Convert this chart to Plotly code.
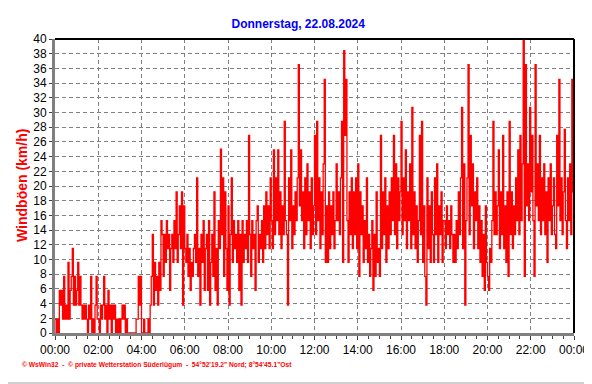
import pandas as pd
import plotly.graph_objects as go

# Wind gusts (km/h), 3-minute samples
gust_00_06 = [
    1.9, 0, 1.9, 0, 5.8, 3.8, 5.8, 1.9, 7.7, 1.9, 3.8, 1.9, 9.6, 1.9, 5.8, 7.7, 11.5, 3.8, 7.7, 3.8,
    5.8, 9.6, 3.8, 7.7, 3.8, 1.9, 3.8, 1.9, 3.8, 1.9, 0, 3.8, 1.9, 7.7, 0, 1.9, 0, 3.8, 7.7, 1.9,
    1.9, 0, 3.8, 1.9, 3.8, 7.7, 1.9, 3.8, 0, 5.8, 1.9, 3.8, 0, 3.8, 1.9, 3.8, 0, 1.9, 0, 1.9,
    0, 1.9, 3.8, 1.9, 3.8, 0, 1.9, 0, 0, 0, 0, 0, 0, 0, 0, 1.9, 1.9, 7.7, 3.8, 7.7,
    0, 0, 1.9, 0, 0, 0, 1.9, 0, 3.8, 7.7, 13.4, 3.8, 9.6, 5.8, 7.7, 3.8, 9.6, 5.8, 15.3, 13.4,
    7.7, 13.4, 9.6, 15.3, 11.5, 13.4, 5.8, 11.5, 13.4, 9.6, 15.3, 11.5, 19.2, 9.6, 13.4, 17.3, 11.5, 19.2, 3.8, 17.3,
]
gust_06_12 = [
    11.5, 9.6, 13.4, 7.7, 11.5, 5.8, 9.6, 7.7, 11.5, 13.4, 9.6, 21.1, 7.7, 11.5, 3.8, 13.4, 9.6, 15.3, 5.8, 11.5,
    13.4, 5.8, 15.3, 3.8, 9.6, 13.4, 7.7, 19.2, 5.8, 11.5, 3.8, 15.3, 11.5, 25.0, 13.4, 21.1, 7.7, 19.2, 11.5, 5.8,
    17.3, 3.8, 13.4, 21.1, 9.6, 15.3, 11.5, 13.4, 9.6, 15.3, 5.8, 13.4, 3.8, 15.3, 9.6, 13.4, 11.5, 15.3, 9.6, 26.9,
    13.4, 7.7, 15.3, 11.5, 13.4, 5.8, 15.3, 17.3, 9.6, 13.4, 11.5, 15.3, 9.6, 17.3, 11.5, 19.2, 13.4, 17.3, 11.5, 21.1,
    15.3, 11.5, 24.9, 13.4, 21.1, 15.3, 24.9, 13.4, 19.2, 11.5, 17.3, 13.4, 28.8, 15.3, 13.4, 3.8, 21.1, 15.3, 24.9, 11.5,
    17.3, 13.4, 19.2, 15.3, 21.1, 36.5, 17.3, 24.9, 15.3, 19.2, 11.5, 21.1, 13.4, 23.0, 15.3, 19.2, 11.5, 21.1, 13.4, 17.3,
]
gust_12_18 = [
    26.9, 13.4, 28.8, 15.3, 21.1, 11.5, 19.2, 13.4, 23.0, 34.5, 9.6, 17.3, 9.6, 19.2, 11.5, 17.3, 13.4, 19.2, 11.5, 15.3,
    23.0, 15.3, 19.2, 13.4, 21.1, 28.8, 9.6, 38.4, 26.9, 34.5, 15.3, 9.6, 19.2, 13.4, 21.1, 11.5, 19.2, 13.4, 21.1, 11.5,
    23.0, 7.7, 19.2, 13.4, 17.3, 9.6, 15.3, 11.5, 21.1, 9.6, 13.4, 7.7, 11.5, 15.3, 5.8, 13.4, 7.7, 19.2, 9.6, 11.5,
    7.7, 26.9, 11.5, 19.2, 13.4, 21.1, 9.6, 17.3, 11.5, 19.2, 13.4, 21.1, 15.3, 26.9, 13.4, 23.0, 11.5, 21.1, 15.3, 19.2,
    28.8, 13.4, 21.1, 15.3, 24.9, 11.5, 19.2, 15.3, 23.0, 11.5, 30.7, 13.4, 19.2, 11.5, 17.3, 9.6, 15.3, 26.9, 13.4, 28.8,
    9.6, 17.3, 7.7, 3.8, 21.1, 11.5, 17.3, 9.6, 19.2, 13.4, 9.6, 21.1, 13.4, 23.0, 9.6, 17.3, 13.4, 19.2, 9.6, 15.3,
]
gust_18_24 = [
    15.3, 11.5, 17.3, 13.4, 15.3, 11.5, 17.3, 13.4, 9.6, 13.4, 9.6, 15.3, 11.5, 19.2, 13.4, 21.1, 30.7, 11.5, 23.0, 3.8,
    15.3, 21.1, 36.5, 13.4, 26.9, 17.3, 23.0, 11.5, 19.2, 15.3, 21.1, 11.5, 17.3, 9.6, 15.3, 7.7, 13.4, 5.8, 17.3, 9.6,
    7.7, 5.8, 11.5, 9.6, 15.3, 28.8, 13.4, 19.2, 13.4, 17.3, 24.9, 11.5, 19.2, 13.4, 26.9, 11.5, 17.3, 9.6, 19.2, 7.7,
    28.8, 13.4, 19.2, 11.5, 17.3, 13.4, 21.1, 15.3, 24.9, 13.4, 26.9, 15.3, 23.0, 40.0, 7.7, 36.5, 17.3, 23.0, 15.3, 30.7,
    19.2, 26.9, 15.3, 7.7, 36.5, 17.3, 23.0, 15.3, 26.9, 13.4, 21.1, 15.3, 23.0, 13.4, 19.2, 9.6, 21.1, 15.3, 23.0, 13.4,
    17.3, 21.1, 13.4, 11.5, 26.9, 17.3, 34.5, 15.3, 21.1, 13.4, 19.2, 27.7, 15.3, 11.5, 21.1, 15.3, 23.0, 13.4, 34.5, 19.2,
    11.5,
]

gusts = gust_00_06 + gust_06_12 + gust_12_18 + gust_18_24
times = pd.date_range("2024-08-22 00:00", periods=len(gusts), freq="3min")

title_text = "Donnerstag, 22.08.2024"
y_title = "Windböen (km/h)"
footer = "© WsWin32  -  © private Wetterstation Süderlügum  -  54°52'19.2\" Nord; 8°54'45.1\"Ost"

FONT = "Liberation Sans, Arial, sans-serif"

# the page body adds an 8px offset; figure is sized to fit the 592x384 window
W, H = 584, 376

fig = go.Figure()
fig.add_trace(go.Scatter(
    x=times, y=gusts, mode="lines",
    line=dict(color="#FF0000", width=1.3, shape="hv"),
    hoverinfo="skip", showlegend=False,
))

fig.update_layout(
    width=W, height=H,
    margin=dict(l=47, r=18, t=31, b=51, autoexpand=False),
    paper_bgcolor="white", plot_bgcolor="white",
    font=dict(family=FONT, size=12, color="black"),
    title=dict(text="<b>" + title_text + "</b>", x=0.497, xref="container",
               y=1 - 16 / H, yref="container", yanchor="middle", xanchor="center",
               font=dict(family=FONT, size=12, color="#0000FF")),
    showlegend=False,
)

fig.update_xaxes(
    type="date", automargin=False,
    range=["2024-08-22 00:00", "2024-08-23 00:00"],
    dtick=2 * 3600 * 1000, tick0="2024-08-22 00:00", tickformat="%H:%M",
    showgrid=True, gridcolor="#808080", gridwidth=1, griddash="4px,3px",
    showline=True, linecolor="#808080", linewidth=3,
    ticks="outside", ticklen=4, tickcolor="#404040",
    minor=dict(dtick=30 * 60 * 1000, ticks="outside", ticklen=3, tickcolor="#404040", showgrid=False),
    tickfont=dict(family=FONT, size=12, color="black"),
    zeroline=False, fixedrange=True,
)
fig.update_yaxes(
    automargin=False,
    range=[0, 40], dtick=2, tick0=0,
    showgrid=True, gridcolor="#808080", gridwidth=1, griddash="4px,3px",
    showline=True, linecolor="#808080", linewidth=3,
    ticks="outside", ticklen=3, tickcolor="#404040",
    tickfont=dict(family=FONT, size=12, color="black"),
    zeroline=False, fixedrange=True,
)

# top and right black frame lines of the plot area
fig.add_shape(type="line", xref="paper", yref="paper", x0=0, x1=1, y0=1, y1=1,
              line=dict(color="black", width=2))
fig.add_shape(type="line", xref="paper", yref="paper", x0=1, x1=1, y0=0, y1=1,
              line=dict(color="black", width=2))
# outer light frame (right and bottom)
fig.add_shape(type="line", xref="paper", yref="paper", x0=(590 - 55) / 519, x1=(590 - 55) / 519,
              y0=(333 - 383) / 294, y1=(333 - 0) / 294, line=dict(color="#A0A0A0", width=1))
fig.add_shape(type="line", xref="paper", yref="paper", x0=(8 - 55) / 519, x1=(590 - 55) / 519,
              y0=(333 - 383) / 294, y1=(333 - 383) / 294, line=dict(color="#A0A0A0", width=1))

fig.add_annotation(text="<b>" + y_title + "</b>", textangle=-90, showarrow=False,
                   xref="paper", yref="paper", x=(22 - 55) / 519, y=(333 - 186) / 294,
                   xanchor="center", yanchor="middle",
                   font=dict(family=FONT, size=14, color="#FF0000"))
fig.add_annotation(text="<b>" + footer + "</b>", showarrow=False,
                   xref="paper", yref="paper", x=(20 - 55) / 519, y=(333 - 365) / 294,
                   xanchor="left", yanchor="middle",
                   font=dict(family=FONT, size=6.7, color="#FF0000"))

fig.write_html("out.html")
